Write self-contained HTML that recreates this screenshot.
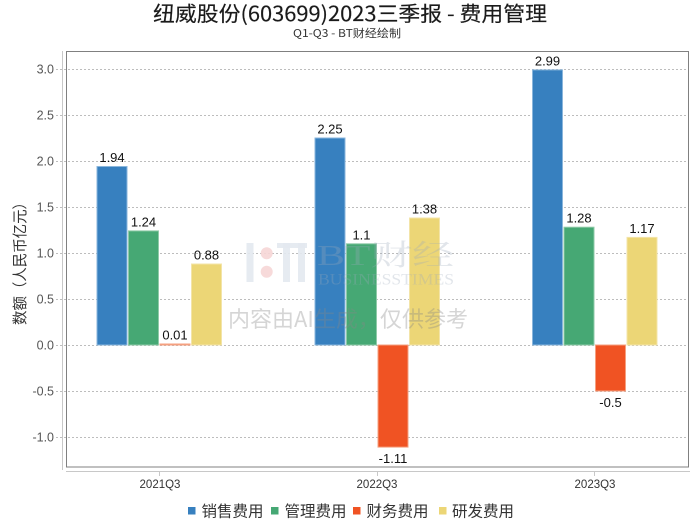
<!DOCTYPE html>
<html>
<head>
<meta charset="utf-8">
<style>
  html, body { margin:0; padding:0; background:#fff; }
  body { width:700px; height:524px; overflow:hidden; }
  svg { display:block; }
</style>
</head>
<body>
<svg width="700" height="524" viewBox="0 0 700 524" xmlns="http://www.w3.org/2000/svg">
  <rect x="0" y="0" width="700" height="524" fill="#fff"/>

  <!-- Title -->
  <text x="153" y="21" font-family="'WenQuanYi Zen Hei','Noto Sans CJK SC',sans-serif" font-size="20.5" fill="#1a1a1a" stroke="#1a1a1a" stroke-width="0.15" textLength="394" lengthAdjust="spacingAndGlyphs">纽威股份(603699)2023三季报 - 费用管理</text>
  <text x="293" y="37" font-family="'WenQuanYi Zen Hei','Noto Sans CJK SC',sans-serif" font-size="11" fill="#333" textLength="108" lengthAdjust="spacingAndGlyphs">Q1-Q3 - BT财经绘制</text>

  <!-- Gridlines -->
  <g stroke="#bdbdbd" stroke-width="1" stroke-dasharray="2,2" shape-rendering="crispEdges">
    <line x1="56" y1="69.5" x2="688" y2="69.5"/>
    <line x1="56" y1="115.5" x2="688" y2="115.5"/>
    <line x1="56" y1="161.5" x2="688" y2="161.5"/>
    <line x1="56" y1="207.5" x2="688" y2="207.5"/>
    <line x1="56" y1="253.5" x2="688" y2="253.5"/>
    <line x1="56" y1="299.5" x2="688" y2="299.5"/>
    <line x1="56" y1="345.5" x2="688" y2="345.5"/>
    <line x1="56" y1="391.5" x2="688" y2="391.5"/>
    <line x1="56" y1="437.5" x2="688" y2="437.5"/>
  </g>

  <!-- Axis lines -->
  <line x1="62.5" y1="51" x2="62.5" y2="470" stroke="#c8c8c8" stroke-width="1"/>
  <line x1="66" y1="471.5" x2="690" y2="471.5" stroke="#c8c8c8" stroke-width="1"/>
  <g stroke="#c8c8c8" stroke-width="1">
    <line x1="159.5" y1="471" x2="159.5" y2="476"/>
    <line x1="377.5" y1="471" x2="377.5" y2="476"/>
    <line x1="594.5" y1="471" x2="594.5" y2="476"/>
  </g>

  <!-- Plot border -->
  <rect x="66.5" y="51.5" width="622" height="415.5" fill="none" stroke="#808080" stroke-width="1"/>

  <!-- Y tick labels -->
  <g font-family="'Liberation Sans',sans-serif" font-size="12.5" fill="#555" text-anchor="end">
    <text x="54" y="73.5">3.0</text>
    <text x="54" y="119.5">2.5</text>
    <text x="54" y="165.5">2.0</text>
    <text x="54" y="211.5">1.5</text>
    <text x="54" y="257.5">1.0</text>
    <text x="54" y="303.5">0.5</text>
    <text x="54" y="349.5">0.0</text>
    <text x="54" y="395.5">-0.5</text>
    <text x="54" y="441.5">-1.0</text>
  </g>

  <!-- Y axis title -->
  <text transform="translate(25,325) rotate(-90)" font-family="'WenQuanYi Zen Hei','Noto Sans CJK SC',sans-serif" font-size="15" fill="#333" textLength="130" lengthAdjust="spacingAndGlyphs">数额（人民币亿元）</text>

  <!-- Bars -->
  <g stroke-width="1">
    <!-- 2021Q3 -->
    <rect x="97" y="166.5" width="30" height="178.5" fill="#3780bf" stroke="#8ab6dc"/>
    <rect x="128.5" y="230.9" width="30" height="114.1" fill="#46a874" stroke="#8fcaa8"/>
    <rect x="160" y="344" width="30" height="1" fill="#f05323" stroke="#f5a080"/>
    <rect x="191.5" y="264" width="30" height="81" fill="#ecd676" stroke="#f3e4a8"/>
    <!-- 2022Q3 -->
    <rect x="315" y="138" width="30" height="207" fill="#3780bf" stroke="#8ab6dc"/>
    <rect x="346.5" y="243.8" width="30" height="101.2" fill="#46a874" stroke="#8fcaa8"/>
    <rect x="378" y="345" width="30" height="102.1" fill="#f05323" stroke="#f5a080"/>
    <rect x="409.5" y="218" width="30" height="127" fill="#ecd676" stroke="#f3e4a8"/>
    <!-- 2023Q3 -->
    <rect x="532.5" y="69.9" width="30" height="275.1" fill="#3780bf" stroke="#8ab6dc"/>
    <rect x="564" y="227.2" width="30" height="117.8" fill="#46a874" stroke="#8fcaa8"/>
    <rect x="595.5" y="345" width="30" height="46" fill="#f05323" stroke="#f5a080"/>
    <rect x="627" y="237.4" width="30" height="107.6" fill="#ecd676" stroke="#f3e4a8"/>
  </g>

  <!-- Watermark -->
  <g>
    <rect x="246.5" y="243" width="7" height="39" fill="#e3e9f0" opacity="0.9"/>
    <circle cx="266.7" cy="253.3" r="6" fill="#f6d6d6" opacity="0.9"/>
    <circle cx="266.7" cy="271.7" r="6" fill="#f6d6d6" opacity="0.9"/>
    <rect x="277" y="243" width="30" height="5" fill="#e3e9f0" opacity="0.9"/>
    <rect x="283" y="243" width="7" height="39" fill="#e3e9f0" opacity="0.9"/>
    <rect x="298" y="243" width="7" height="39" fill="#e3e9f0" opacity="0.9"/>
    <text x="317" y="265" font-family="'Liberation Serif','Noto Serif CJK SC',serif" font-size="29" fill="#9aaabb" fill-opacity="0.3" textLength="137" lengthAdjust="spacingAndGlyphs">BT财经</text>
    <text x="318" y="284.5" font-family="'Liberation Serif',serif" font-size="16" fill="#9aaabb" fill-opacity="0.3" textLength="136" lengthAdjust="spacingAndGlyphs">BUSINESSTIMES</text>
    <text x="228" y="327" font-family="'WenQuanYi Zen Hei','Noto Sans CJK SC',sans-serif" font-size="22" fill="#888" fill-opacity="0.35" textLength="240" lengthAdjust="spacingAndGlyphs">内容由AI生成，仅供参考</text>
  </g>

  <!-- Data labels -->
  <g font-family="'Liberation Sans',sans-serif" font-size="13" fill="#111" text-anchor="middle">
    <text x="112" y="162">1.94</text>
    <text x="143.5" y="226.5">1.24</text>
    <text x="175" y="339.5">0.01</text>
    <text x="206.5" y="259.5">0.88</text>

    <text x="330" y="133.5">2.25</text>
    <text x="361.5" y="239.5">1.1</text>
    <text x="393" y="463">-1.11</text>
    <text x="424.5" y="213.5">1.38</text>

    <text x="547.5" y="65.5">2.99</text>
    <text x="579" y="222.5">1.28</text>
    <text x="610.5" y="407">-0.5</text>
    <text x="642" y="233">1.17</text>
  </g>

  <!-- X tick labels -->
  <g font-family="'Liberation Sans',sans-serif" font-size="11.5" fill="#333" text-anchor="middle">
    <text x="160" y="488">2021Q3</text>
    <text x="377" y="488">2022Q3</text>
    <text x="595" y="488">2023Q3</text>
  </g>

  <!-- Legend -->
  <g font-family="'WenQuanYi Zen Hei','Noto Sans CJK SC',sans-serif" font-size="15.5" fill="#333">
    <rect x="188" y="507" width="7.5" height="7.5" fill="#3780bf"/>
    <text x="201.5" y="516.5">销售费用</text>
    <rect x="271" y="507" width="7.5" height="7.5" fill="#46a874"/>
    <text x="284.5" y="516.5">管理费用</text>
    <rect x="353" y="507" width="7.5" height="7.5" fill="#f05323"/>
    <text x="366.5" y="516.5">财务费用</text>
    <rect x="439" y="507" width="7.5" height="7.5" fill="#ecd676"/>
    <text x="452" y="516.5">研发费用</text>
  </g>
</svg>
</body>
</html>
